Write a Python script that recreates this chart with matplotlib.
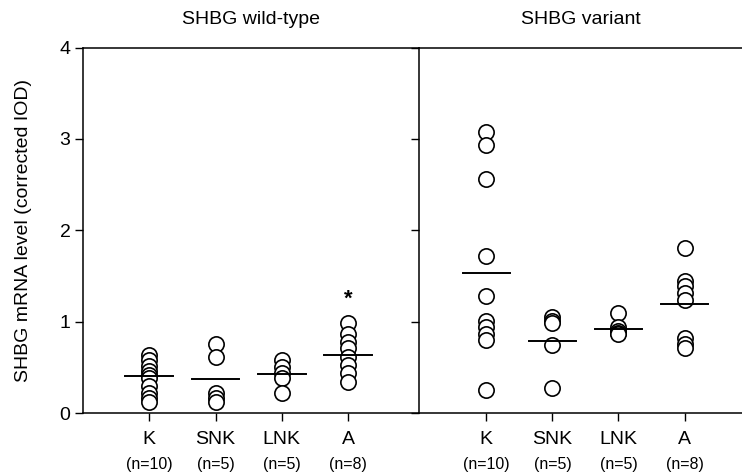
import matplotlib.pyplot as plt

plt.rcParams["font.family"] = ["Liberation Sans", "DejaVu Sans"]

GROUPS = ["K", "SNK", "LNK", "A"]
COUNTS = ["(n=10)", "(n=5)", "(n=5)", "(n=8)"]

WILD = {
    "K": [0.64, 0.58, 0.51, 0.46, 0.42, 0.38, 0.30, 0.22, 0.16, 0.12],
    "SNK": [0.75, 0.61, 0.22, 0.16, 0.12],
    "LNK": [0.58, 0.50, 0.44, 0.38, 0.22],
    "A": [0.99, 0.86, 0.78, 0.71, 0.61, 0.53, 0.44, 0.34],
}
WILD_MEAN = [0.40, 0.37, 0.43, 0.64]

VARIANT = {
    "K": [3.07, 2.93, 2.56, 1.72, 1.28, 1.01, 0.94, 0.87, 0.80, 0.25],
    "SNK": [1.05, 1.01, 0.99, 0.74, 0.27],
    "LNK": [1.09, 0.94, 0.90, 0.88, 0.87],
    "A": [1.81, 1.44, 1.39, 1.31, 1.24, 0.82, 0.76, 0.71],
}
VARIANT_MEAN = [1.53, 0.79, 0.92, 1.19]

TITLES = ["SHBG wild-type", "SHBG variant"]
STAR_GROUP = "A"
STAR_Y = 1.24

fig = plt.figure(figsize=(7.42, 4.74), dpi=100)
ax1 = fig.add_axes([83 / 742, 61 / 474, 336 / 742, 365.5 / 474])
ax2 = fig.add_axes([419 / 742, 61 / 474, 323 / 742, 365.5 / 474])

x = [1, 2, 3, 4]
half = 0.36

for ax, data, means, title, xmax in [
    (ax1, WILD, WILD_MEAN, TITLES[0], 5.07),
    (ax2, VARIANT, VARIANT_MEAN, TITLES[1], 4.87),
]:
    for i, g in enumerate(GROUPS):
        vals = data[g]
        ax.plot([x[i]] * len(vals), vals, "o", ms=11, mfc="white",
                mec="black", mew=1.2, ls="none", zorder=3, clip_on=False)
        ax.plot([x[i] - half, x[i] + half], [means[i], means[i]],
                color="black", lw=1.4, zorder=4)
        ax.text(x[i], -0.142, COUNTS[i], transform=ax.get_xaxis_transform(),
                ha="center", va="center", fontsize=11.5)
    ax.set_xlim(0 if ax is ax1 else -0.02, xmax)
    ax.set_ylim(0, 4)
    ax.set_xticks(x)
    ax.set_xticklabels(GROUPS, fontsize=14)
    ax.set_yticks([0, 1, 2, 3, 4])
    ax.tick_params(axis="x", length=6, width=1.0, pad=7)
    ax.tick_params(axis="y", length=6, width=1.0, labelsize=14, pad=3)
    ax.spines["right"].set_visible(False)
    for s in ["left", "top", "bottom"]:
        ax.spines[s].set_linewidth(1.1)
    ax.set_title(title, fontsize=14, pad=17)

ax2.tick_params(axis="y", labelleft=False)
ax1.set_ylabel("SHBG mRNA level (corrected IOD)", fontsize=14, labelpad=20)

ax1.text(x[GROUPS.index(STAR_GROUP)], STAR_Y, "*", ha="center", va="center",
         fontsize=16, fontweight="bold")

fig.savefig("out.png", dpi=100)
